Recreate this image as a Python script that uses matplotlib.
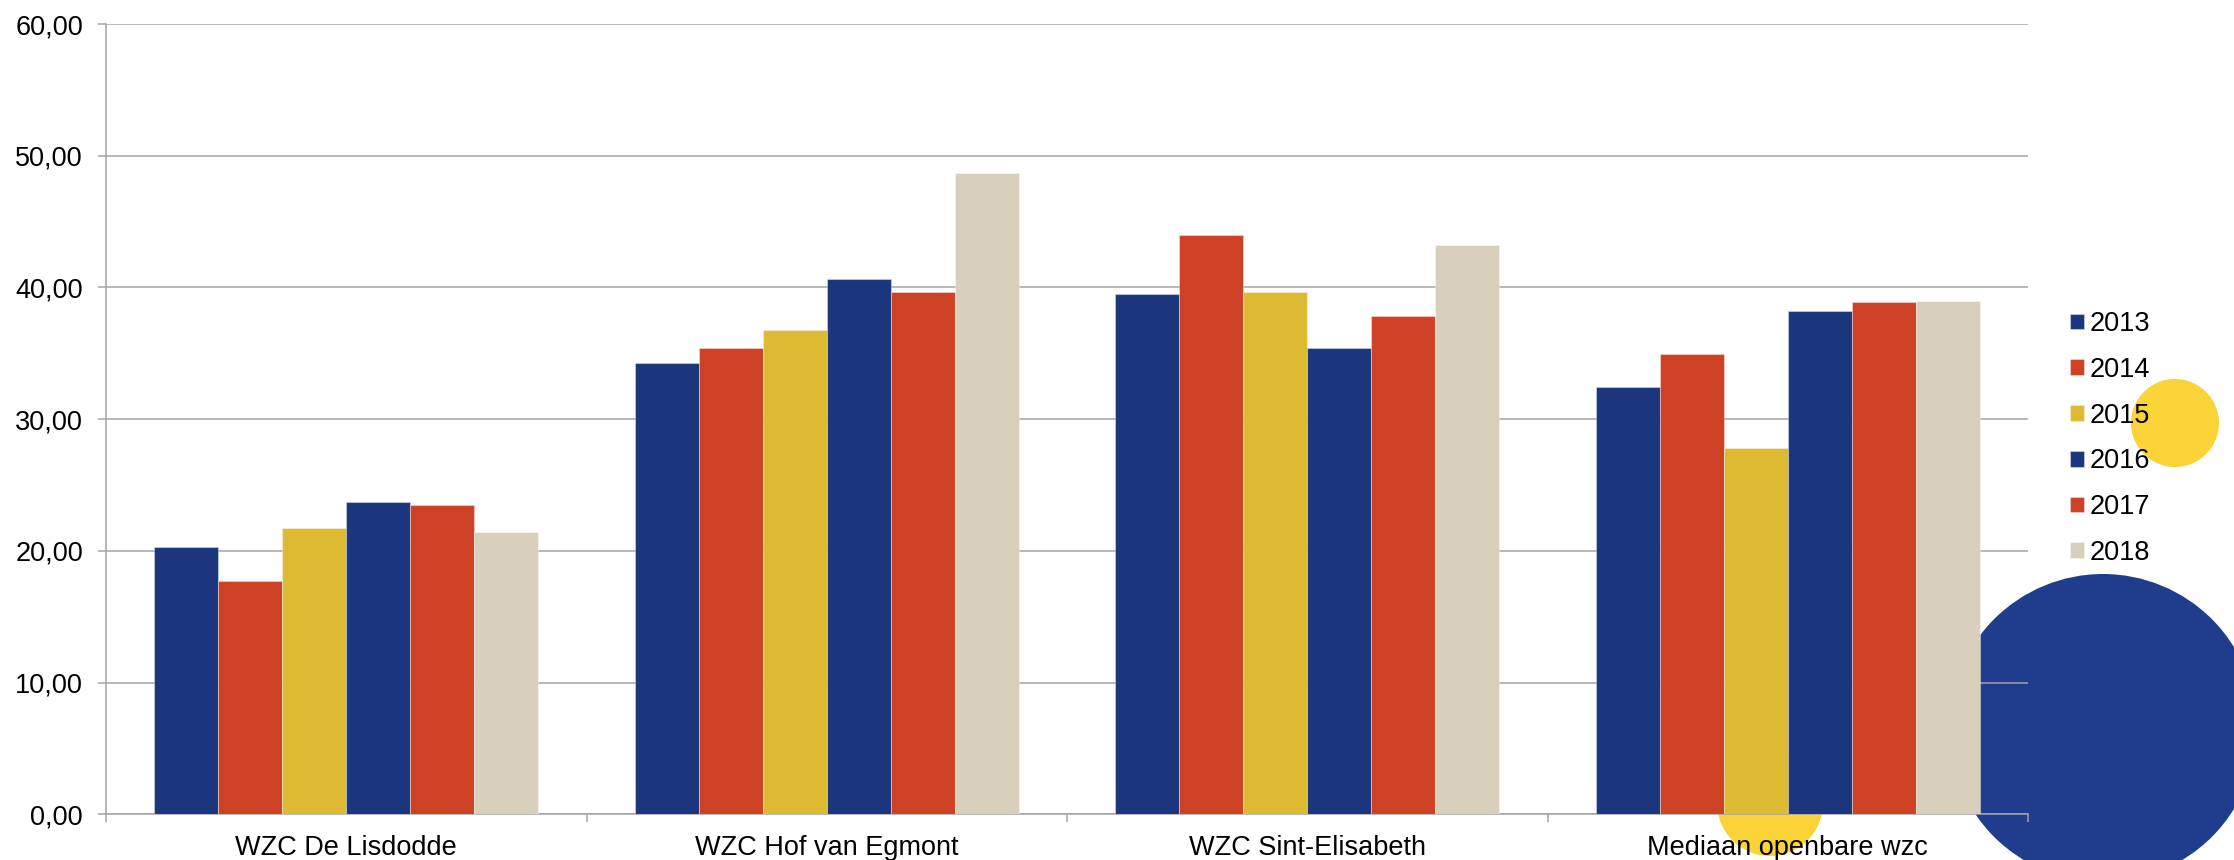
import matplotlib
matplotlib.use("Agg")
import matplotlib.pyplot as plt
from matplotlib.patches import Ellipse
from matplotlib.ticker import FuncFormatter, FixedLocator
import numpy as np

plt.rcParams["font.family"] = ["Liberation Sans", "DejaVu Sans"]

# data
categories = ["WZC De Lisdodde", "WZC Hof van Egmont", "WZC Sint-Elisabeth", "Mediaan openbare wzc"]
years = ["2013", "2014", "2015", "2016", "2017", "2018"]
v2013 = [20.32, 34.30, 39.48, 32.46]
v2014 = [17.71, 35.41, 44.02, 34.97]
v2015 = [21.71, 36.80, 39.69, 27.79]
v2016 = [23.69, 40.67, 35.38, 38.19]
v2017 = [23.49, 39.64, 37.84, 38.87]
v2018 = [21.44, 48.72, 43.26, 38.99]
series = [v2013, v2014, v2015, v2016, v2017, v2018]

colors = ["#1B367C", "#CD4124", "#DCBB32", "#1B367C", "#CD4124", "#D8D0BD"]
grid_col = "#A4A4A4"
W, H = 2234, 860
FS = 19.5

fig = plt.figure(figsize=(W / 100, H / 100), dpi=100)
fig.patch.set_facecolor("white")

# decorative circles behind the chart (pixel centre / radius)
def add_circle(cx, cy, r, col):
    e = Ellipse((cx / W, 1 - cy / H), 2 * r / W, 2 * r / H,
                transform=fig.transFigure, facecolor=col, edgecolor="none", zorder=-1)
    fig.patches.append(e)

add_circle(2103, 728, 154, "#1F3D8C")
add_circle(1770, 803, 53, "#F9D338")
add_circle(2175, 423, 44, "#F9D338")

ax = fig.add_axes([106 / W, 45.7 / H, (2028 - 106) / W, 0.91884])
ax.set_facecolor("none")

x = np.arange(len(categories))
bw = 0.8 / len(years)
for k, (vals, col, yr) in enumerate(zip(series, colors, years)):
    ax.bar(x + (k - 2.5) * bw, vals, width=bw, color=col, label=yr,
           edgecolor=(1, 1, 1, 0.35), linewidth=0.8, zorder=3)

ax.set_xlim(-0.5, len(categories) - 0.5)
ax.set_ylim(0, 60)
ax.set_yticks(np.arange(0, 61, 10))
ax.yaxis.set_major_formatter(FuncFormatter(lambda v, p: f"{v:.2f}".replace(".", ",")))
ax.set_xticks(x)
ax.set_xticklabels(categories)
ax.xaxis.set_minor_locator(FixedLocator(np.arange(-0.5, len(categories), 1.0)))

ax.grid(axis="y", color=grid_col, linewidth=1.1, zorder=0)
ax.set_axisbelow(True)
for s in ["top", "right"]:
    ax.spines[s].set_visible(False)
for s in ["left", "bottom"]:
    ax.spines[s].set_color(grid_col)
    ax.spines[s].set_linewidth(1.1)

ax.tick_params(axis="y", direction="out", length=5.5, width=1.1, color=grid_col,
               labelsize=FS, pad=11)
ax.tick_params(axis="x", which="major", length=0, labelsize=FS, pad=15)
ax.tick_params(axis="x", which="minor", direction="out", length=5.8, width=1.1, color=grid_col)

fig.legend(loc="upper left", bbox_to_anchor=(2070 / W, 1 - 311 / H),
           frameon=False, fontsize=FS, borderpad=0, borderaxespad=0,
           handlelength=0.52, handleheight=0.52, handletextpad=0.2, labelspacing=0.73)

fig.savefig("out.png", dpi=100)
